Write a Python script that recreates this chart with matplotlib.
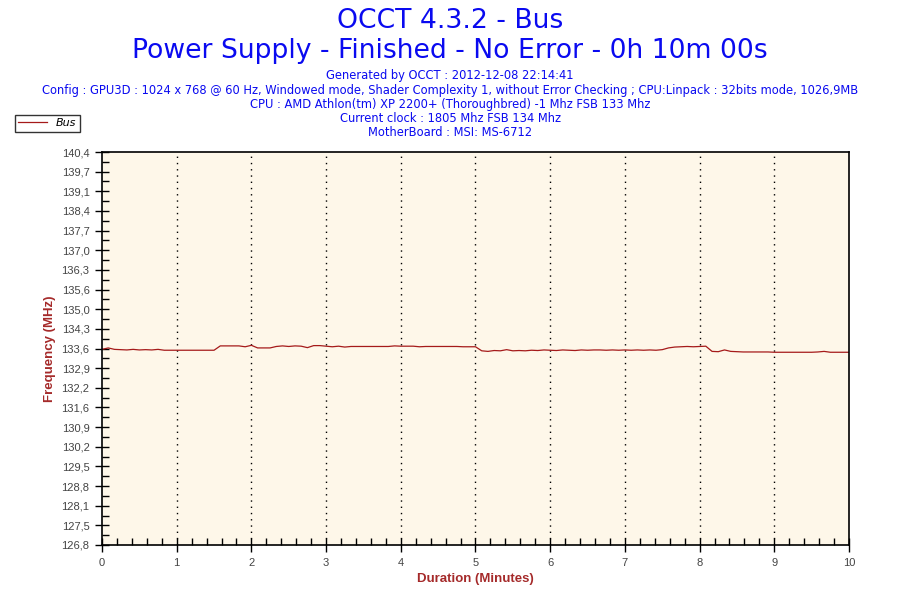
import numpy as np
import matplotlib
matplotlib.use("Agg")
import matplotlib.pyplot as plt
from matplotlib.ticker import MultipleLocator, FixedLocator

# ---- data ----
minutes = [i / 12 for i in range(121)]
bus_mhz = [
    133.57, 133.62, 133.57, 133.56, 133.55, 133.57, 133.55, 133.56, 133.55, 133.57,
    133.54, 133.54, 133.54, 133.54, 133.54, 133.54, 133.54, 133.54, 133.54, 133.69,
    133.69, 133.69, 133.69, 133.66, 133.71, 133.62, 133.62, 133.62, 133.67, 133.69,
    133.67, 133.69, 133.68, 133.63, 133.70, 133.70, 133.68, 133.66, 133.68, 133.65,
    133.67, 133.67, 133.67, 133.67, 133.67, 133.67, 133.67, 133.69, 133.68, 133.68,
    133.68, 133.66, 133.67, 133.67, 133.67, 133.67, 133.67, 133.67, 133.66, 133.66,
    133.66, 133.52, 133.50, 133.53, 133.52, 133.56, 133.52, 133.53, 133.52, 133.54,
    133.53, 133.55, 133.54, 133.53, 133.55, 133.54, 133.53, 133.55, 133.54, 133.55,
    133.55, 133.54, 133.55, 133.54, 133.55, 133.54, 133.55, 133.54, 133.55, 133.54,
    133.56, 133.62, 133.65, 133.66, 133.67, 133.66, 133.67, 133.68, 133.50, 133.49,
    133.55, 133.50, 133.49, 133.48, 133.48, 133.48, 133.48, 133.48, 133.47, 133.47,
    133.47, 133.47, 133.47, 133.47, 133.47, 133.48, 133.50, 133.47, 133.47, 133.47,
    133.47,
]
y_min, y_max = 126.8, 140.4
y_tick_labels = ["126,8", "127,5", "128,1", "128,8", "129,5", "130,2", "130,9",
                 "131,6", "132,2", "132,9", "133,6", "134,3", "135,0", "135,6",
                 "136,3", "137,0", "137,7", "138,4", "139,1", "139,7", "140,4"]
x_ticks = list(range(0, 11))

title_lines = ["OCCT 4.3.2 - Bus",
               "Power Supply - Finished - No Error - 0h 10m 00s"]
info_lines = [
    "Generated by OCCT : 2012-12-08 22:14:41",
    "Config : GPU3D : 1024 x 768 @ 60 Hz, Windowed mode, Shader Complexity 1, without Error Checking ; CPU:Linpack : 32bits mode, 1026,9MB",
    "CPU : AMD Athlon(tm) XP 2200+ (Thoroughbred) -1 Mhz FSB 133 Mhz",
    "Current clock : 1805 Mhz FSB 134 Mhz",
    "MotherBoard : MSI: MS-6712",
]

# ---- figure ----
fig = plt.figure(figsize=(9, 6), dpi=100)
fig.patch.set_facecolor("white")
ax = fig.add_axes([102 / 900, 55 / 600, 747 / 900, 393 / 600])
ax.set_facecolor("#FEF7E9")

line_color = "#A51A1A"
ax.plot(minutes, bus_mhz, color=line_color, lw=0.9, label="Bus")

ax.set_xlim(0, 10)
ax.set_ylim(y_min, y_max)

yt = np.linspace(y_min, y_max, len(y_tick_labels))
ax.yaxis.set_major_locator(FixedLocator(yt))
ax.set_yticklabels(y_tick_labels)
ax.yaxis.set_minor_locator(FixedLocator((yt[:-1] + yt[1:]) / 2))
ax.set_xticks(x_ticks)
ax.set_xticklabels([str(v) for v in x_ticks])
ax.xaxis.set_minor_locator(MultipleLocator(0.2))

for side in ["left", "bottom", "top", "right"]:
    ax.spines[side].set_color("black")
    ax.spines[side].set_linewidth(1.2)

ax.tick_params(axis="both", which="major", direction="inout", length=10, width=1,
               colors="black", labelcolor="#444444", labelsize=8, pad=4)
ax.tick_params(axis="both", which="minor", direction="in", length=5, width=1,
               colors="black")
for lbl in ax.get_xticklabels() + ax.get_yticklabels():
    lbl.set_fontfamily("Liberation Sans")

for xv in x_ticks[1:-1]:
    ax.axvline(xv, color="black", lw=1.0, ls=(0, (1, 3.5)), zorder=1)

ax.set_xlabel("Duration (Minutes)", color="#A52A2A", fontweight="bold",
              fontsize=9.5, labelpad=4, family="Liberation Sans")
ax.set_ylabel("Frequency (MHz)", color="#A52A2A", fontweight="bold",
              fontsize=9.5, labelpad=4, family="Liberation Sans")

# titles
title_color = "#0A0AF0"
fig.text(0.5, 1 - 21 / 600, title_lines[0], ha="center", va="center",
         fontsize=19.2, color=title_color, family="DejaVu Sans")
fig.text(0.5, 1 - 51 / 600, title_lines[1], ha="center", va="center",
         fontsize=19.2, color=title_color, family="DejaVu Sans")
for i, txt in enumerate(info_lines):
    fig.text(0.5, 1 - (76 + 14.2 * i) / 600, txt, ha="center", va="center",
             fontsize=8.3, color=title_color, family="DejaVu Sans")

# legend
leg = fig.legend(loc="upper left", bbox_to_anchor=(15 / 900, 1 - 115 / 600),
                 frameon=True, fancybox=False, edgecolor="black",
                 prop={"style": "italic", "size": 8, "family": "DejaVu Sans"},
                 handlelength=2.6, borderpad=0.3, handletextpad=0.8,
                 borderaxespad=0)
leg.get_frame().set_linewidth(1.0)

fig.savefig("out.png", dpi=100)
